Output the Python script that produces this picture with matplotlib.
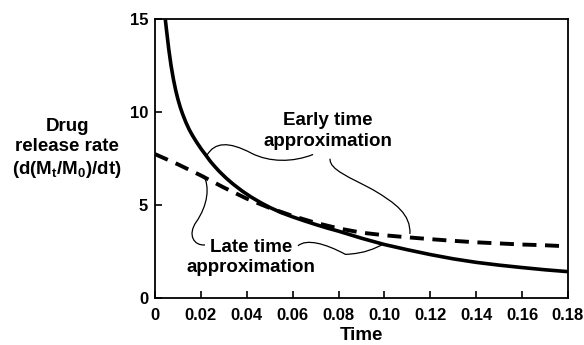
import matplotlib
matplotlib.use("Agg")
import matplotlib.pyplot as plt
from matplotlib.path import Path
from matplotlib.patches import PathPatch

plt.rcParams['font.family'] = ['Liberation Sans', 'DejaVu Sans']
plt.rcParams['font.weight'] = 'bold'
plt.rcParams['mathtext.fontset'] = 'custom'
plt.rcParams['mathtext.rm'] = 'Liberation Sans:bold'
plt.rcParams['mathtext.bf'] = 'Liberation Sans:bold'

# solid curve
t_solid = [0.0045, 0.005, 0.006, 0.007, 0.008, 0.009, 0.010, 0.011, 0.012, 0.0135,
           0.015, 0.0165, 0.018, 0.020, 0.022, 0.024, 0.026, 0.028, 0.031, 0.034,
           0.038, 0.042, 0.046, 0.05, 0.055, 0.06, 0.065, 0.07, 0.075, 0.08,
           0.09, 0.10, 0.11, 0.12, 0.13, 0.14, 0.15, 0.16, 0.17, 0.18]
r_solid = [15.0, 14.45, 13.4, 12.52, 11.8, 11.2, 10.7, 10.28, 9.92, 9.45,
           9.05, 8.72, 8.42, 8.05, 7.72, 7.38, 7.09, 6.82, 6.46, 6.14,
           5.76, 5.43, 5.14, 4.88, 4.6, 4.37, 4.16, 3.96, 3.77, 3.6,
           3.22, 2.88, 2.6, 2.34, 2.11, 1.92, 1.77, 1.64, 1.52, 1.42]

# dashed curve
t_dash = [0.0, 0.01, 0.02, 0.03, 0.04, 0.05, 0.06, 0.07, 0.08, 0.09,
          0.10, 0.11, 0.12, 0.13, 0.14, 0.15, 0.16, 0.17, 0.177]
r_dash = [7.75, 7.2, 6.6, 5.95, 5.35, 4.85, 4.42, 4.05, 3.75, 3.52,
          3.38, 3.27, 3.17, 3.08, 3.0, 2.94, 2.88, 2.84, 2.8]

x_ticks = [0, 0.02, 0.04, 0.06, 0.08, 0.10, 0.12, 0.14, 0.16, 0.18]
x_labels = ['0', '0.02', '0.04', '0.06', '0.08', '0.10', '0.12', '0.14', '0.16', '0.18']
y_ticks = [0, 5, 10, 15]

fig = plt.figure(figsize=(5.84, 3.45), dpi=100)
ax = fig.add_axes([0.2654, 0.1362, 0.7072, 0.8073])

ax.plot(t_solid, r_solid, color='black', lw=2.6, solid_capstyle='butt',
        solid_joinstyle='round')
ax.plot(t_dash, r_dash, color='black', lw=2.8, dashes=(3.6, 2.2))

ax.set_xlim(0, 0.18)
ax.set_ylim(0, 15)
ax.set_xticks(x_ticks)
ax.set_xticklabels(x_labels)
ax.set_yticks(y_ticks)
ax.tick_params(direction='in', length=5, width=1.2, labelsize=12, pad=5)
ax.tick_params(axis='x', pad=7)
for s in ax.spines.values():
    s.set_linewidth(1.3)

ax.set_xlabel('Time', fontsize=13.5, fontweight='bold', labelpad=3)
fig.text(0.115, 0.568, 'Drug\nrelease rate\n' + r'(d(M$_{\mathrm{t}}$/M$_{\mathrm{0}}$)/dt)',
         ha='center', va='center', fontsize=13.5, fontweight='bold', linespacing=1.25)

# annotation texts
ax.text(0.0754, 9.0, 'Early time\napproximation', ha='center', va='center',
        fontsize=13.5, fontweight='bold', linespacing=1.25)
ax.text(0.0418, 2.2, 'Late time\napproximation', ha='center', va='center',
        fontsize=13.5, fontweight='bold', linespacing=1.25)

# leader lines
leaders = [
    [(0.0226, 7.68), (0.0260, 8.40), (0.0320, 8.45), (0.0420, 7.80),
     (0.0500, 7.30), (0.0600, 7.30), (0.0689, 7.73)],
    [(0.0763, 7.50), (0.0760, 6.90), (0.0850, 6.50), (0.0950, 5.83),
     (0.1050, 5.10), (0.1115, 4.50), (0.1111, 3.45)],
    [(0.0211, 6.62), (0.0240, 6.00), (0.0230, 5.00), (0.0180, 4.10),
     (0.0140, 3.40), (0.0170, 2.80), (0.0218, 2.86)],
    [(0.0623, 2.81), (0.0660, 3.20), (0.0740, 2.95), (0.0830, 2.35),
     (0.0920, 2.40), (0.0960, 2.70), (0.0989, 2.86)],
]
for pts in leaders:
    codes = [Path.MOVETO] + [Path.CURVE4] * (len(pts) - 1)
    ax.add_patch(PathPatch(Path(pts, codes), fill=False, lw=0.9, edgecolor='black'))

fig.savefig('out.png', dpi=100)
